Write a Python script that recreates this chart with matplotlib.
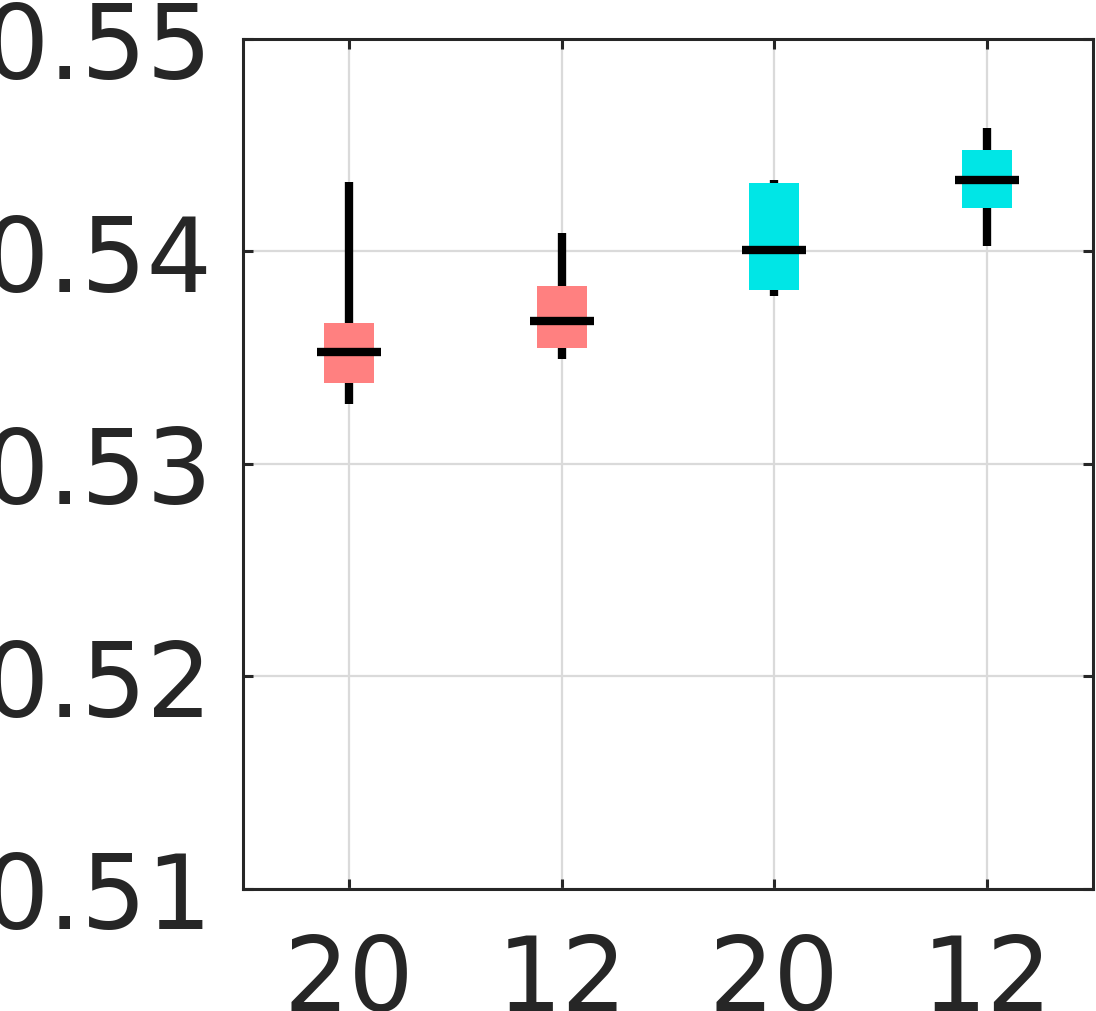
import matplotlib
matplotlib.use("Agg")
import matplotlib.pyplot as plt

# Box statistics (one entry per box)
labels = ["20", "12", "20", "12"]
q1 = [0.53381, 0.53546, 0.53819, 0.54205]
q3 = [0.53664, 0.53838, 0.54322, 0.54478]
medians = [0.53527, 0.53673, 0.54007, 0.54336]
whislo = [0.53282, 0.53494, 0.53791, 0.54026]
whishi = [0.54327, 0.54087, 0.54336, 0.54581]
colors = ["#FF8080", "#FF8080", "#00E6E6", "#00E6E6"]

positions = list(range(1, len(labels) + 1))

fig = plt.figure(figsize=(10.96, 10.12), dpi=100)
ax = fig.add_axes([0.2217, 0.1206, 0.7756, 0.8399])

# whiskers behind the boxes
ax.vlines(positions, whislo, whishi, colors="black", linewidth=6, zorder=2)
# boxes
ax.bar(positions, [h - l for h, l in zip(q3, q1)], bottom=q1, width=0.235,
       color=colors, linewidth=0, zorder=3)
# medians, a little wider than the boxes
ax.hlines(medians, [p - 0.15 for p in positions], [p + 0.15 for p in positions],
          colors="black", linewidth=6, zorder=4)

ax.set_xlim(0.5, 4.5)
ax.set_ylim(0.51, 0.55)
ax.set_xticks(positions)
ax.set_xticklabels(labels)
ax.set_yticks([0.51, 0.52, 0.53, 0.54, 0.55])
ax.set_yticklabels(["0.51", "0.52", "0.53", "0.54", "0.55"])

ax.grid(True, color="#DADADA", linewidth=1.6, zorder=0)
ax.set_axisbelow(True)

for s in ax.spines.values():
    s.set_color("#262626")
    s.set_linewidth(2.2)

ax.tick_params(axis="both", direction="in", length=7, width=2.2, color="#262626",
               labelsize=74, labelcolor="#262626", top=True, right=True)
ax.tick_params(axis="y", pad=22)
ax.tick_params(axis="x", pad=30)

fig.savefig("out.png", dpi=100)
